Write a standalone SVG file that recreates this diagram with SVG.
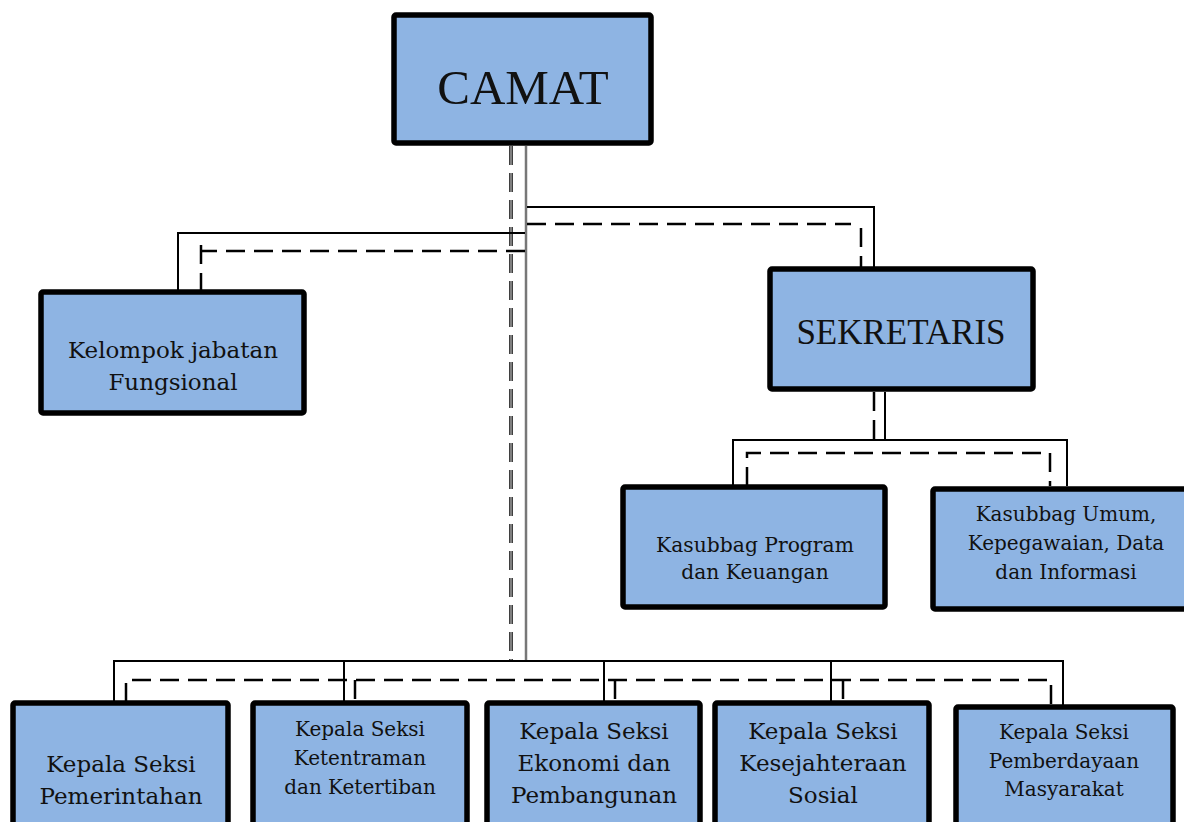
<svg xmlns="http://www.w3.org/2000/svg" width="1184" height="822" viewBox="0 0 1184 822">
<style>
.box{fill:#8EB4E3;stroke:#000;stroke-width:5.5;}
.t{font-family:"DejaVu Serif","Liberation Serif",serif;fill:#111;text-anchor:middle;}
.tt{font-family:"Liberation Serif","Times New Roman",serif;fill:#111;text-anchor:middle;}
.s{fill:none;stroke:#000;stroke-width:2;}
.d{fill:none;stroke:#000;stroke-width:2.5;stroke-dasharray:19 9;}
</style>
<rect width="1184" height="822" fill="#fff"/>
<g id="connectors">
  <line x1="511" y1="146" x2="511" y2="661" stroke="#000" stroke-width="3.5" stroke-dasharray="19 8"/>
  <line x1="511" y1="146" x2="511" y2="661" stroke="#fff" stroke-width="1"/>
  <line x1="526" y1="146" x2="526" y2="661" stroke="#777" stroke-width="2.5"/>
  <polyline class="s" points="527,207 874,207 874,268"/>
  <polyline class="d" points="527,224 851,224"/>
  <line class="d" x1="861" y1="228" x2="861" y2="268"/>
  <polyline class="s" points="525,233 178,233 178,291"/>
  <polyline class="d" points="525,251 202,251"/>
  <line class="d" x1="201" y1="245" x2="201" y2="291"/>
  <line class="d" x1="874" y1="392" x2="874" y2="440"/>
  <line class="s" x1="885" y1="392" x2="885" y2="440"/>
  <polyline class="s" points="733,486 733,440 1067,440 1067,486"/>
  <polyline class="d" points="747,486 747,453 1050,453 1050,486"/>
  <polyline class="s" points="114,702 114,661 1063,661 1063,706"/>
  <line class="s" x1="344" y1="661" x2="344" y2="702"/>
  <line class="s" x1="604" y1="661" x2="604" y2="702"/>
  <line class="s" x1="831" y1="661" x2="831" y2="702"/>
  <polyline class="d" points="126,702 126,680 1051,680 1051,704"/>
  <line class="d" x1="355" y1="680" x2="355" y2="702"/>
  <line class="d" x1="615" y1="680" x2="615" y2="702"/>
  <line class="d" x1="843" y1="680" x2="843" y2="702"/>
</g>
<g id="camat">
  <rect class="box" x="394" y="15" width="257" height="128" rx="2"/>
  <text class="tt" x="523" y="104" font-size="49">CAMAT</text>
</g>
<g id="kelompok">
  <rect class="box" x="41" y="292" width="263" height="121" rx="2"/>
  <text class="t" x="173" y="358" font-size="23">Kelompok jabatan</text>
  <text class="t" x="173" y="390" font-size="23">Fungsional</text>
</g>
<g id="sekretaris">
  <rect class="box" x="770" y="269" width="263" height="120" rx="2"/>
  <text class="tt" x="901" y="344" font-size="35">SEKRETARIS</text>
</g>
<g id="kasubbag-program">
  <rect class="box" x="623" y="487" width="262" height="120" rx="2"/>
  <text class="t" x="755" y="552" font-size="20.3">Kasubbag Program</text>
  <text class="t" x="755" y="579" font-size="20.3">dan Keuangan</text>
</g>
<g id="kasubbag-umum">
  <rect class="box" x="933" y="489" width="262" height="120" rx="2"/>
  <text class="t" x="1066" y="521" font-size="20">Kasubbag Umum,</text>
  <text class="t" x="1066" y="550" font-size="20">Kepegawaian, Data</text>
  <text class="t" x="1066" y="579" font-size="20">dan Informasi</text>
</g>
<g id="seksi-pemerintahan">
  <rect class="box" x="13" y="703" width="215" height="140" rx="2"/>
  <text class="t" x="121" y="772" font-size="23">Kepala Seksi</text>
  <text class="t" x="121" y="804" font-size="23">Pemerintahan</text>
</g>
<g id="seksi-ketentraman">
  <rect class="box" x="253" y="703" width="214" height="140" rx="2"/>
  <text class="t" x="360" y="736" font-size="20">Kepala Seksi</text>
  <text class="t" x="360" y="765" font-size="20">Ketentraman</text>
  <text class="t" x="360" y="794" font-size="20">dan Ketertiban</text>
</g>
<g id="seksi-ekonomi">
  <rect class="box" x="487" y="703" width="213" height="140" rx="2"/>
  <text class="t" x="594" y="739" font-size="23">Kepala Seksi</text>
  <text class="t" x="594" y="771" font-size="23">Ekonomi dan</text>
  <text class="t" x="594" y="803" font-size="23">Pembangunan</text>
</g>
<g id="seksi-kesejahteraan">
  <rect class="box" x="715" y="703" width="214" height="140" rx="2"/>
  <text class="t" x="823" y="739" font-size="23">Kepala Seksi</text>
  <text class="t" x="823" y="771" font-size="23">Kesejahteraan</text>
  <text class="t" x="823" y="803" font-size="23">Sosial</text>
</g>
<g id="seksi-pemberdayaan">
  <rect class="box" x="956" y="707" width="217" height="140" rx="2"/>
  <text class="t" x="1064" y="739" font-size="20">Kepala Seksi</text>
  <text class="t" x="1064" y="768" font-size="20">Pemberdayaan</text>
  <text class="t" x="1064" y="796" font-size="20">Masyarakat</text>
</g>
</svg>
